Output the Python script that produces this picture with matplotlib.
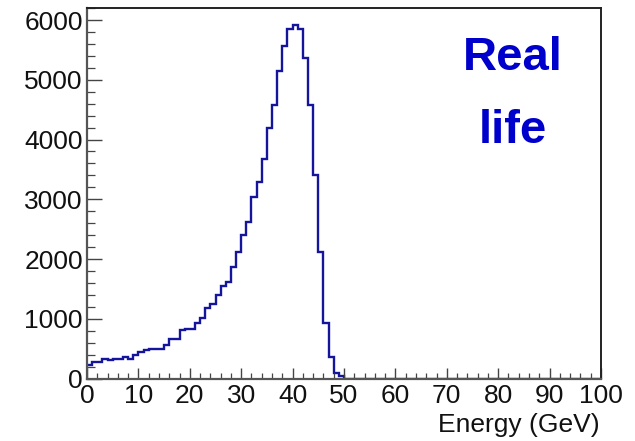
import numpy as np
import matplotlib
matplotlib.use("Agg")
import matplotlib.pyplot as plt
from matplotlib.ticker import MultipleLocator

# Histogram: 100 bins of 1 GeV from 0 to 100
bin_edges = list(range(0, 101))
counts_low = [230, 270, 275, 320, 310, 320, 325, 365, 325, 395,
              445, 470, 490, 490, 495, 555, 655, 660, 820, 825,
              835, 930, 1005, 1175, 1240, 1400, 1540, 1610, 1870, 2110,
              2400, 2620, 3045, 3290, 3670, 4185, 4585, 5145, 5565, 5845,
              5925, 5845, 5365, 4575, 3405, 2120, 935, 365, 95, 40]
counts_high = [0] * 50
counts = counts_low + counts_high

x_label = "Energy (GeV)"
annotation = ["Real", "life"]

W, H = 635, 441
fig = plt.figure(figsize=(W / 100, H / 100), dpi=100)
left, right, top, bottom = 87, 601, 7.5, 378.5
ax = fig.add_axes([left / W, 1 - bottom / H, (right - left) / W, (bottom - top) / H])

edges = np.array(bin_edges, dtype=float)
vals = np.array(counts, dtype=float)
ax.stairs(vals, edges, color="#14149c", linewidth=1.7, baseline=None)

ax.set_xlim(0, 100)
ax.set_ylim(0, 6210)

font = "Liberation Sans"
ax.xaxis.set_major_locator(MultipleLocator(10))
ax.xaxis.set_minor_locator(MultipleLocator(2))
ax.yaxis.set_major_locator(MultipleLocator(1000))
ax.yaxis.set_minor_locator(MultipleLocator(200))

ax.tick_params(axis="x", which="major", direction="in", length=8, width=1.0,
               color="#444444", labelsize=19, pad=4)
ax.tick_params(axis="x", which="minor", direction="in", length=4.3, width=0.9,
               color="#444444")
ax.tick_params(axis="y", which="major", direction="in", length=11, width=1.0,
               color="#444444", labelsize=19, pad=3)
ax.tick_params(axis="y", which="minor", direction="in", length=6, width=0.9,
               color="#444444")
for lab in ax.get_xticklabels() + ax.get_yticklabels():
    lab.set_fontfamily(font)
    lab.set_color("#111111")

for side in ["left", "bottom"]:
    ax.spines[side].set_color("#555555")
    ax.spines[side].set_linewidth(1.6)
for side in ["top", "right"]:
    ax.spines[side].set_color("#222222")
    ax.spines[side].set_linewidth(1.4)

fig.text(600 / W, 1 - 425 / H, x_label, ha="right", va="center",
         fontsize=19, family=font, color="#111111")

fig.text(513 / W, 1 - 58 / H, annotation[0], ha="center", va="center",
         fontsize=34, fontweight="bold", family=font, color="#0000cc")
fig.text(513 / W, 1 - 131 / H, annotation[1], ha="center", va="center",
         fontsize=34, fontweight="bold", family=font, color="#0000cc")

fig.savefig("out.png", dpi=100)
